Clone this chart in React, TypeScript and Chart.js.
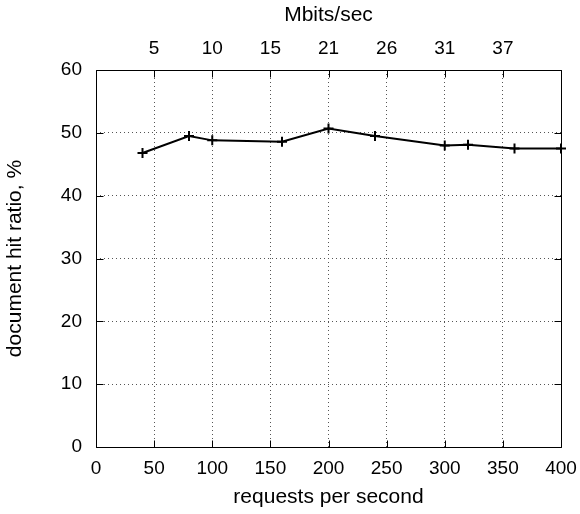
import React, { useEffect, useRef } from "react";
import { Chart, registerables } from "chart.js";

Chart.register(...registerables);

const requestsPerSecond = [40, 80, 100, 160, 200, 240, 300, 320, 360, 400];
const hitRatio = [46.8, 49.5, 48.8, 48.6, 50.7, 49.5, 48.0, 48.1, 47.5, 47.5];
const bottomTickValues = [0, 50, 100, 150, 200, 250, 300, 350, 400];
const topTickValues = [50, 100, 150, 200, 250, 300, 350];
const topTickLabels = ["5", "10", "15", "21", "26", "31", "37"];
const yTickValues = [0, 10, 20, 30, 40, 50, 60];

const FONT = "'Liberation Sans', Arial, Helvetica, sans-serif";
const GRID_COLOR = "#555";
const GRID_DASH = [1, 3];
const TICK_SIZE = 19;
const TITLE_SIZE = 21;

const framePlugin = {
  id: "frameTicks",
  beforeDatasetsDraw(chart: any) {
    const { ctx, chartArea } = chart;
    const { left, right, top, bottom } = chartArea;
    const xs = chart.scales.x;
    const ys = chart.scales.y;
    const len = 7;
    ctx.save();
    ctx.strokeStyle = "#000";
    ctx.lineWidth = 1;
    ctx.setLineDash([]);
    const L = Math.round(left) + 0.5;
    const R = Math.round(right) + 0.5;
    const T = Math.round(top) + 0.5;
    const B = Math.round(bottom) + 0.5;
    ctx.beginPath();
    ctx.rect(L, T, R - L, B - T);
    ctx.stroke();
    ctx.beginPath();
    for (const v of bottomTickValues) {
      const px = Math.round(xs.getPixelForValue(v)) + 0.5;
      ctx.moveTo(px, B);
      ctx.lineTo(px, B - len);
    }
    for (const v of topTickValues) {
      const px = Math.round(xs.getPixelForValue(v)) + 0.5;
      ctx.moveTo(px, T);
      ctx.lineTo(px, T + len);
    }
    for (const v of yTickValues) {
      const py = Math.round(ys.getPixelForValue(v)) + 0.5;
      ctx.moveTo(L, py);
      ctx.lineTo(L + len, py);
      ctx.moveTo(R, py);
      ctx.lineTo(R - len, py);
    }
    ctx.stroke();
    ctx.restore();
  },
};

export default function App() {
  const ref = useRef<HTMLCanvasElement | null>(null);
  useEffect(() => {
    if (!ref.current) return;
    const chart = new Chart(ref.current, {
      type: "line",
      data: {
        datasets: [
          {
            data: requestsPerSecond.map((x, i) => ({ x, y: hitRatio[i] })),
            borderColor: "#000",
            backgroundColor: "#000",
            borderWidth: 2,
            pointStyle: "cross",
            pointRadius: 5,
            pointBorderWidth: 2,
            pointHoverRadius: 5,
            fill: false,
            tension: 0,
            clip: false,
            xAxisID: "x",
            yAxisID: "y",
          } as any,
        ],
      },
      options: {
        animation: false,
        responsive: false,
        maintainAspectRatio: false,
        events: [],
        layout: { padding: { left: 0, right: 19, top: 0, bottom: 0 } },
        plugins: {
          legend: { display: false },
          tooltip: { enabled: false },
        },
        scales: {
          x: {
            type: "linear",
            position: "bottom",
            min: 0,
            max: 400,
            afterBuildTicks: (s: any) => {
              s.ticks = bottomTickValues.map((v) => ({ value: v }));
            },
            afterFit: (s: any) => {
              s.height = 67;
              s.paddingRight = 0;
              s.paddingLeft = 0;
            },
            ticks: {
              color: "#000",
              font: { family: FONT, size: TICK_SIZE },
              padding: 10,
              maxRotation: 0,
            },
            grid: {
              color: GRID_COLOR,
              lineWidth: 1,
              drawTicks: false,
            },
            border: { display: false, dash: GRID_DASH },
            title: {
              display: true,
              text: "requests per second",
              color: "#000",
              font: { family: FONT, size: TITLE_SIZE },
              padding: { top: 0, bottom: 4 },
            },
          } as any,
          x2: {
            type: "linear",
            position: "top",
            min: 0,
            max: 400,
            afterBuildTicks: (s: any) => {
              s.ticks = topTickValues.map((v) => ({ value: v }));
            },
            afterFit: (s: any) => {
              s.height = 70;
              s.paddingRight = 0;
              s.paddingLeft = 0;
            },
            ticks: {
              color: "#000",
              font: { family: FONT, size: TICK_SIZE },
              padding: 10,
              maxRotation: 0,
              callback: (v: any) => {
                const i = topTickValues.indexOf(Number(v));
                return i >= 0 ? topTickLabels[i] : "";
              },
            },
            grid: { display: false, drawTicks: false },
            border: { display: false },
            title: {
              display: true,
              text: "Mbits/sec",
              color: "#000",
              font: { family: FONT, size: TITLE_SIZE },
              padding: { top: 3, bottom: 4 },
            },
          } as any,
          y: {
            type: "linear",
            position: "left",
            min: 0,
            max: 60,
            afterBuildTicks: (s: any) => {
              s.ticks = yTickValues.map((v) => ({ value: v }));
            },
            afterFit: (s: any) => {
              s.width = 96;
              s.paddingTop = 0;
              s.paddingBottom = 0;
            },
            ticks: {
              color: "#000",
              font: { family: FONT, size: TICK_SIZE },
              padding: 14,
            },
            grid: {
              color: GRID_COLOR,
              lineWidth: 1,
              drawTicks: false,
            },
            border: { display: false, dash: GRID_DASH },
            title: {
              display: true,
              text: "document hit ratio, %",
              color: "#000",
              font: { family: FONT, size: TITLE_SIZE },
              padding: { top: 3, bottom: 10 },
            },
          } as any,
        },
      },
      plugins: [framePlugin],
    } as any);
    return () => chart.destroy();
  }, []);
  return (
    <div style={{ position: "absolute", left: 0, top: 0, width: 580, height: 514 }}>
      <canvas ref={ref} width={580} height={514} />
    </div>
  );
}
